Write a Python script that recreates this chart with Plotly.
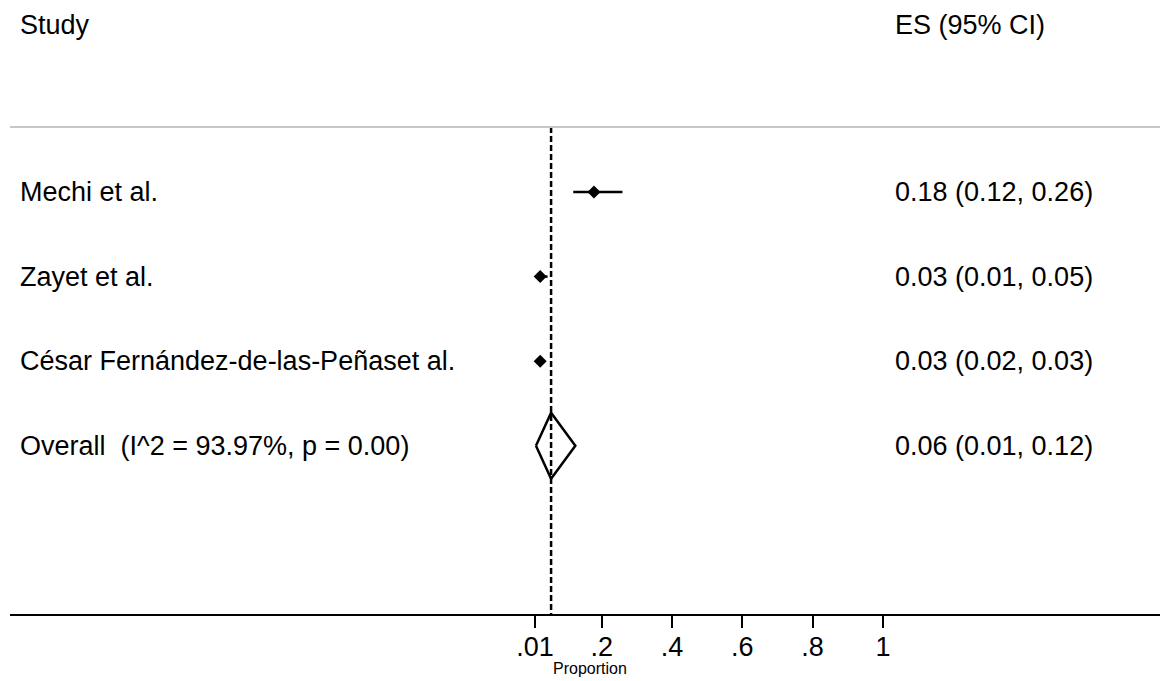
import plotly.graph_objects as go

# ---- data ----
studies = ["Mechi et al.", "Zayet et al.", "César Fernández-de-las-Peñaset al."]
es = [0.178, 0.025, 0.025]
lci = [0.119, 0.012, 0.018]
uci = [0.259, 0.046, 0.032]
es_labels = ["0.18 (0.12, 0.26)", "0.03 (0.01, 0.05)", "0.03 (0.02, 0.03)"]

overall_label = "Overall  (I^2 = 93.97%, p = 0.00)"
overall_es = 0.056
overall_lci = 0.013
overall_uci = 0.125
overall_text = "0.06 (0.01, 0.12)"

tick_vals = [0.01, 0.2, 0.4, 0.6, 0.8, 1]
tick_text = [".01", ".2", ".4", ".6", ".8", "1"]

# ---- layout geometry (page body adds an 8px offset) ----
OFF = 8
W, H = 1168 - OFF, 681 - OFF
ML, MR, MT = 10 - OFF, 0, 0
axis_px = 614 - OFF
MB = H - axis_px
px_per_unit = 351.5
zero_px = 531.4 - OFF
x0 = -(zero_px - ML) / px_per_unit
x1 = x0 + (W - ML - MR) / px_per_unit
row_px = 84.6
first_row_px = 192 - OFF
plot_h = H - MT - MB
y_top = 1 - first_row_px / row_px
y_bot = 1 + (plot_h - first_row_px) / row_px
header_y = 1 - (first_row_px - (25 - OFF)) / row_px
sep_y = 1 - (first_row_px - (127 - OFF)) / row_px

FONT = "Liberation Sans, Arial, Helvetica, sans-serif"
FS = 27
LW = 2.5

rows = list(range(1, len(studies) + 1))
overall_row = len(studies) + 1

fig = go.Figure()

# CI lines
for r, lo, hi in zip(rows, lci, uci):
    fig.add_trace(go.Scatter(x=[lo, hi], y=[r, r], mode="lines",
                             line=dict(color="black", width=LW),
                             showlegend=False, hoverinfo="skip"))
# point estimates
fig.add_trace(go.Scatter(x=es, y=rows, mode="markers",
                         marker=dict(symbol="diamond", size=10, color="black"),
                         showlegend=False))

# overall diamond
hh = 0.39
fig.add_trace(go.Scatter(
    x=[overall_lci, overall_es, overall_uci, overall_es, overall_lci],
    y=[overall_row, overall_row - hh, overall_row, overall_row + hh, overall_row],
    mode="lines", fill="toself", fillcolor="white",
    line=dict(color="black", width=LW), showlegend=False, hoverinfo="skip"))

# dashed overall line
fig.add_shape(type="line", xref="x", yref="y",
              x0=overall_es, x1=overall_es, y0=sep_y, y1=y_bot,
              line=dict(color="black", width=LW, dash="6px,3px"), layer="above")

# separator gray line
fig.add_shape(type="line", xref="paper", yref="y", x0=0, x1=1, y0=sep_y, y1=sep_y,
              line=dict(color="#c8c8c8", width=2))

PW = W - ML - MR
left_x = (20 - OFF - ML) / PW
right_x = (895 - OFF - ML) / PW

def txt(x, y, s, size=FS):
    fig.add_annotation(x=x, y=y, xref="paper", yref="y", text=s, showarrow=False,
                       xanchor="left", yanchor="middle", xshift=-2,
                       font=dict(family=FONT, size=size, color="black"))

txt(left_x, header_y, "Study")
txt(right_x, header_y, "ES (95% CI)")
for r, s, lab in zip(rows, studies, es_labels):
    txt(left_x, r, s)
    txt(right_x, r, lab)
txt(left_x, overall_row, overall_label)
txt(right_x, overall_row, overall_text)

# axis title
fig.add_annotation(x=(589.5 - OFF - ML) / PW, y=-(668 - OFF - axis_px) / plot_h,
                   xref="paper", yref="paper", text="Proportion", showarrow=False,
                   xanchor="center", yanchor="middle",
                   font=dict(family=FONT, size=16, color="black"))

fig.update_layout(
    width=W, height=H,
    margin=dict(l=ML, r=MR, t=MT, b=MB, pad=0),
    plot_bgcolor="white", paper_bgcolor="white",
    font=dict(family=FONT, color="black"),
    xaxis=dict(range=[x0, x1], showgrid=False, zeroline=False,
               showline=True, linecolor="black", linewidth=2,
               ticks="outside", ticklen=12, tickwidth=2, tickcolor="black",
               ticklabelstandoff=-4,
               tickvals=tick_vals, ticktext=tick_text,
               tickfont=dict(family=FONT, size=27, color="black")),
    yaxis=dict(range=[y_bot, y_top], visible=False, showgrid=False, zeroline=False),
)

fig.write_html("out.html")
